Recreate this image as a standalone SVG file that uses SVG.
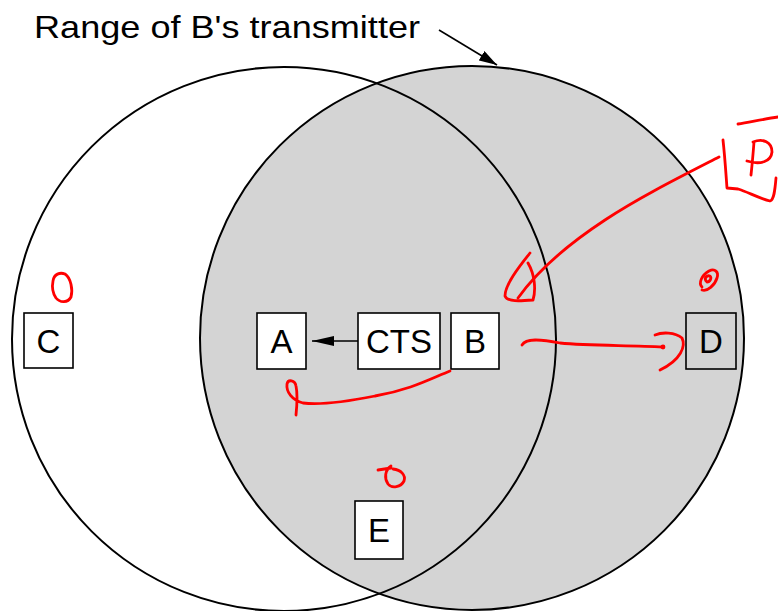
<svg xmlns="http://www.w3.org/2000/svg" width="778" height="611" viewBox="0 0 778 611">
<style>
.box{fill:#fff;stroke:#000;stroke-width:1.6}
.lbl{font-family:"Liberation Sans",Arial,sans-serif;font-size:33px;fill:#000;text-anchor:middle}
.ring{fill:none;stroke:#000;stroke-width:2}
.red{fill:none;stroke:#f00;stroke-width:2.8;stroke-linecap:round;stroke-linejoin:round}
</style>
<defs>
<marker id="ah" viewBox="0 0 22 10" refX="22" refY="5" markerWidth="22" markerHeight="10" markerUnits="userSpaceOnUse" orient="auto">
<path d="M0,0 L22,5 L0,10 Z" fill="#000"/>
</marker>
<marker id="ah2" viewBox="0 0 18 11" refX="18" refY="5.5" markerWidth="18" markerHeight="11" markerUnits="userSpaceOnUse" orient="auto">
<path d="M0,0 L18,5.5 L0,11 Z" fill="#000"/>
</marker>
</defs>
<rect width="778" height="611" fill="#fff"/>
<g id="ranges">
<circle cx="284" cy="339" r="272" fill="#fff" stroke="none"/>
<circle id="rangeB" cx="472" cy="338" r="272" class="ring" style="fill:#d4d4d4"/>
<circle cx="284" cy="339" r="272" class="ring"/>
</g>
<g id="title">
<text x="34" y="38" font-family="Liberation Sans, Arial, sans-serif" font-size="32" textLength="386" lengthAdjust="spacingAndGlyphs">Range of B's transmitter</text>
</g>
<g id="node-C"><rect class="box" x="24" y="313" width="49" height="55"/><text class="lbl" x="48.5" y="353">C</text></g>
<g id="node-A"><rect class="box" x="257" y="313" width="49" height="56"/><text class="lbl" x="281.5" y="353">A</text></g>
<g id="node-CTS"><rect class="box" x="358" y="313" width="82" height="56"/><text class="lbl" x="399" y="353">CTS</text></g>
<g id="node-B"><rect class="box" x="451" y="313" width="48" height="56"/><text class="lbl" x="475" y="353">B</text></g>
<g id="node-D"><rect class="box" x="686" y="313" width="50" height="56" style="fill:#d4d4d4"/><text class="lbl" x="711" y="353">D</text></g>
<g id="node-E"><rect class="box" x="355" y="501" width="48" height="58"/><text class="lbl" x="379" y="542">E</text></g>
<g id="connectors">
<line x1="358" y1="341" x2="312" y2="341" stroke="#000" stroke-width="1.6" marker-end="url(#ah)"/>
<line x1="439" y1="30" x2="497" y2="65" stroke="#000" stroke-width="1.6" marker-end="url(#ah2)"/>
</g>
<g id="annotations">
<path class="red" d="M53,281 C54,274 60,272 65,274 C71,278 73,290 71,297 C68,303 60,303 56,298 C52,292 52,286 53,281"/>
<path class="red" d="M378,470 L391,468 M391,466 C385,470 384,478 388,484 C392,489 401,487 404,481 C406,475 401,470 393,469"/>
<path class="red" d="M702,287 C698,283 702,275 709,271 C715,268 719,272 717,278 C715,285 707,292 702,290 M706,281 C704,278 707,275 710,276 C712,278 710,282 707,282"/>
<path class="red" d="M522,345 C526,338 540,339 560,343 C590,346 630,345 663,347"/>
<circle cx="663" cy="347" r="2.4" fill="#f00"/>
<path class="red" d="M655,335 C662,332 675,332 682,338 C686,346 681,360 660,370"/>
<path class="red" d="M450,371 C430,379 410,390 375,396 C350,401 320,405 303,403 C292,400 286,392 287,384 C288,379 295,380 296,386 C298,395 297,405 296,415"/>
<path class="red" d="M719,157 C680,177 640,197 605,220 C570,243 538,270 518,298"/>
<path class="red" d="M530,253 C518,268 505,285 505,296 C507,302 520,301 533,300 C536,290 535,275 528,263"/>
<path class="red" d="M738,124 C750,122 765,119 778,117"/>
<path class="red" d="M723,140 C725,158 726,175 727,188 L738,189 C748,192 758,198 770,201 C774,200 775,190 776,178"/>
<path class="red" d="M754,142 C753,155 752,166 751,175 M747,161 C760,165 771,162 772,152 C772,142 763,138 753,142"/>
</g>
</svg>
